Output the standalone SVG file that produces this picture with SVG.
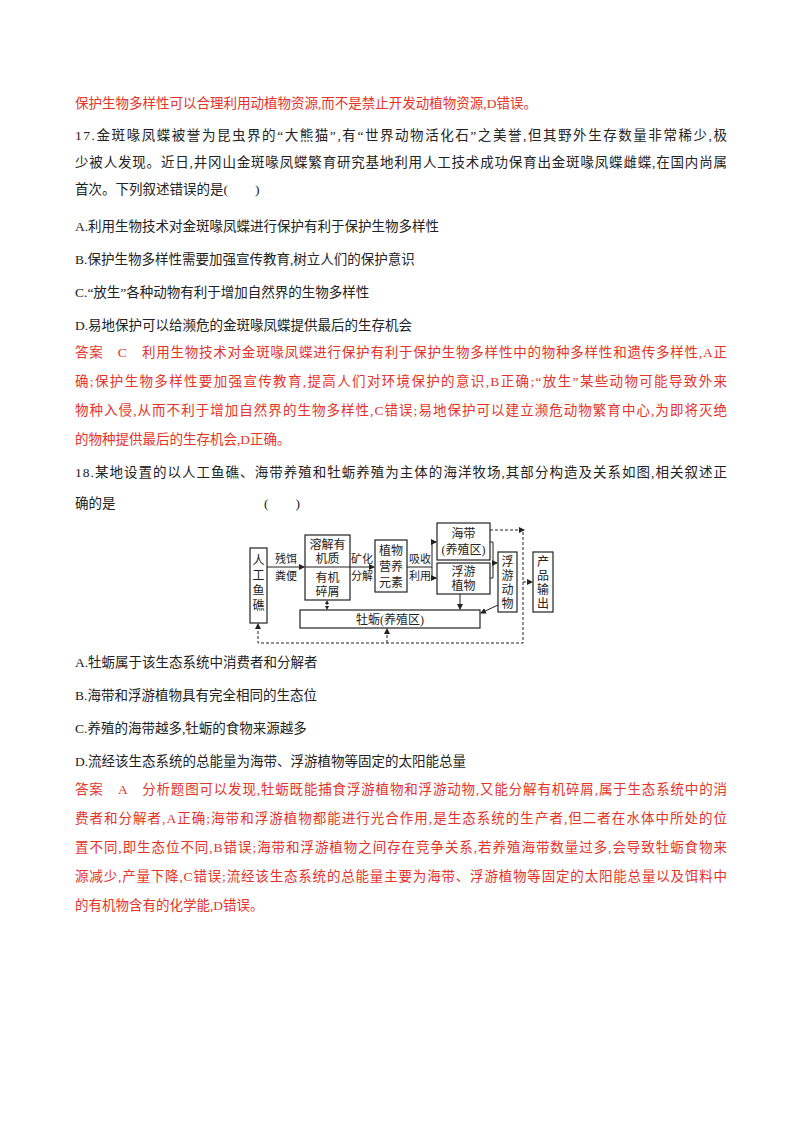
<svg xmlns="http://www.w3.org/2000/svg" width="800" height="1132" viewBox="0 0 800 1132">
<defs>
<style>
text{font-family:"Liberation Serif","Noto Sans CJK SC",serif;font-size:13.5px;fill:#222}
.r{fill:#e5332a}
.b{fill:none;stroke:#222;stroke-width:1.2}
.c{fill:none;stroke:#222;stroke-width:1}
.d{fill:none;stroke:#222;stroke-width:1;stroke-dasharray:3,2}
.n{font-size:12px;text-anchor:middle}
.s{font-size:11px;text-anchor:middle}
</style>
<marker id="a" markerWidth="6" markerHeight="6" refX="5" refY="3" orient="auto" markerUnits="userSpaceOnUse"><path d="M0,0L6,3L0,6z" fill="#222"/></marker>
</defs>
<rect width="800" height="1132" fill="#fff"/>
<text class="r" x="75" y="108">保护生物多样性可以合理利用动植物资源,而不是禁止开发动植物资源,D错误。</text>
<text x="75" y="140" textLength="652" lengthAdjust="spacing">17.金斑喙凤蝶被誉为昆虫界的“大熊猫”,有“世界动物活化石”之美誉,但其野外生存数量非常稀少,极</text>
<text x="75" y="167" textLength="652" lengthAdjust="spacing">少被人发现。近日,井冈山金斑喙凤蝶繁育研究基地利用人工技术成功保育出金斑喙凤蝶雌蝶,在国内尚属</text>
<text x="75" y="194">首次。下列叙述错误的是(　　)</text>
<text x="75" y="231">A.利用生物技术对金斑喙凤蝶进行保护有利于保护生物多样性</text>
<text x="75" y="264">B.保护生物多样性需要加强宣传教育,树立人们的保护意识</text>
<text x="75" y="297">C.“放生”各种动物有利于增加自然界的生物多样性</text>
<text x="75" y="330">D.易地保护可以给濒危的金斑喙凤蝶提供最后的生存机会</text>
<text class="r" x="75" y="357" textLength="652" lengthAdjust="spacing">答案　C　利用生物技术对金斑喙凤蝶进行保护有利于保护生物多样性中的物种多样性和遗传多样性,A正</text>
<text class="r" x="75" y="386" textLength="652" lengthAdjust="spacing">确;保护生物多样性要加强宣传教育,提高人们对环境保护的意识,B正确;“放生”某些动物可能导致外来</text>
<text class="r" x="75" y="415" textLength="652" lengthAdjust="spacing">物种入侵,从而不利于增加自然界的生物多样性,C错误;易地保护可以建立濒危动物繁育中心,为即将灭绝</text>
<text class="r" x="75" y="444">的物种提供最后的生存机会,D正确。</text>
<text x="75" y="477" textLength="652" lengthAdjust="spacing">18.某地设置的以人工鱼礁、海带养殖和牡蛎养殖为主体的海洋牧场,其部分构造及关系如图,相关叙述正</text>
<text x="75" y="508">确的是　　　　　　　　　　　(　　)</text>

<g id="reef"><rect class="b" x="250" y="548" width="17" height="75"/><text class="n" x="258.5" y="565">人</text><text class="n" x="258.5" y="580">工</text><text class="n" x="258.5" y="595">鱼</text><text class="n" x="258.5" y="610">礁</text></g>
<g id="organic"><rect class="b" x="305" y="535" width="45" height="65"/><line class="b" x1="305" y1="567" x2="350" y2="567"/><text class="n" x="327.5" y="549">溶解有</text><text class="n" x="327.5" y="563">机质</text><text class="n" x="327.5" y="582">有机</text><text class="n" x="327.5" y="596">碎屑</text></g>
<g id="nutrient"><rect class="b" x="375" y="540" width="32" height="52"/><text class="n" x="391" y="555">植物</text><text class="n" x="391" y="571">营养</text><text class="n" x="391" y="587">元素</text></g>
<g id="kelp"><rect class="b" x="437" y="523" width="53" height="37"/><text class="n" x="463.5" y="538">海带</text><text class="n" x="463.5" y="554">(养殖区)</text></g>
<g id="phyto"><rect class="b" x="437" y="563" width="53" height="31"/><text class="n" x="463.5" y="576">浮游</text><text class="n" x="463.5" y="590">植物</text></g>
<g id="zoo"><rect class="b" x="498" y="552" width="19" height="60"/><text class="n" x="507.5" y="566">浮</text><text class="n" x="507.5" y="580">游</text><text class="n" x="507.5" y="594">动</text><text class="n" x="507.5" y="608">物</text></g>
<g id="output"><rect class="b" x="533" y="552" width="20" height="60"/><text class="n" x="543" y="566">产</text><text class="n" x="543" y="580">品</text><text class="n" x="543" y="594">输</text><text class="n" x="543" y="608">出</text></g>
<g id="oyster"><rect class="b" x="300" y="610" width="180" height="18"/><text class="n" x="390" y="624">牡蛎(养殖区)</text></g>

<g id="connectors">
<line class="c" x1="267" y1="567" x2="304" y2="567" marker-end="url(#a)"/>
<text class="s" x="286" y="563">残饵</text><text class="s" x="286" y="580">粪便</text>
<line class="c" x1="350" y1="567" x2="374" y2="567" marker-end="url(#a)"/>
<text class="s" x="362" y="563">矿化</text><text class="s" x="362" y="580">分解</text>
<line class="c" x1="407" y1="567" x2="432" y2="567"/>
<polyline class="c" points="436,542 432,542 432,578 436,578"/>
<line class="c" x1="432" y1="542" x2="436" y2="542" marker-end="url(#a)"/>
<line class="c" x1="432" y1="578" x2="436" y2="578" marker-end="url(#a)"/>
<text class="s" x="420" y="563">吸收</text><text class="s" x="420" y="580">利用</text>
<polyline class="c" points="490,542 493,542 493,578 490,578"/>
<line class="c" x1="493" y1="563" x2="497" y2="563" marker-end="url(#a)"/>
<line class="c" x1="460" y1="594" x2="460" y2="609" marker-end="url(#a)"/>
<line class="c" x1="498" y1="605" x2="481" y2="613" marker-end="url(#a)"/>
<line class="d" x1="327" y1="602" x2="327" y2="608"/>
<path d="M327,600l-2,4h4z M327,610l-2,-4h4z" fill="#222"/>
<polyline class="d" points="490,530 523,530 523,643 258,643 258,624" marker-end="url(#a)"/>
<path d="M520,530l4,0" class="c" marker-end="url(#a)"/>
<line class="d" x1="523" y1="582" x2="532" y2="582" marker-end="url(#a)"/>
<line class="d" x1="387" y1="643" x2="387" y2="629" marker-end="url(#a)"/>
</g>

<text x="75" y="667">A.牡蛎属于该生态系统中消费者和分解者</text>
<text x="75" y="700">B.海带和浮游植物具有完全相同的生态位</text>
<text x="75" y="733">C.养殖的海带越多,牡蛎的食物来源越多</text>
<text x="75" y="766">D.流经该生态系统的总能量为海带、浮游植物等固定的太阳能总量</text>
<text class="r" x="75" y="794" textLength="652" lengthAdjust="spacing">答案　A　分析题图可以发现,牡蛎既能捕食浮游植物和浮游动物,又能分解有机碎屑,属于生态系统中的消</text>
<text class="r" x="75" y="823" textLength="652" lengthAdjust="spacing">费者和分解者,A正确;海带和浮游植物都能进行光合作用,是生态系统的生产者,但二者在水体中所处的位</text>
<text class="r" x="75" y="852" textLength="652" lengthAdjust="spacing">置不同,即生态位不同,B错误;海带和浮游植物之间存在竞争关系,若养殖海带数量过多,会导致牡蛎食物来</text>
<text class="r" x="75" y="881" textLength="652" lengthAdjust="spacing">源减少,产量下降,C错误;流经该生态系统的总能量主要为海带、浮游植物等固定的太阳能总量以及饵料中</text>
<text class="r" x="75" y="910">的有机物含有的化学能,D错误。</text>
</svg>
